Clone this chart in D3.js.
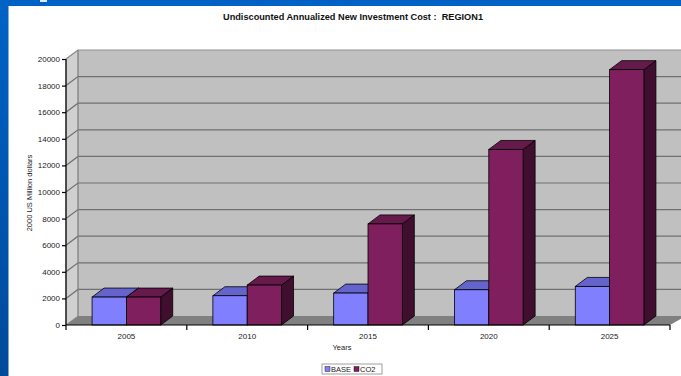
<!DOCTYPE html>
<html>
<head>
<meta charset="utf-8">
<script src="https://cdn.jsdelivr.net/npm/d3@7"></script>
<style>
  html, body { margin: 0; padding: 0; background: #fff; }
  svg { display: block; font-family: "Liberation Sans", Arial, sans-serif; }
</style>
</head>
<body>
<svg class="js-chart" width="681" height="376"></svg>
<script>
// data
var years = ["2005", "2010", "2015", "2020", "2025"];
var seriesNames = ["BASE", "CO2"];
var baseValues = [2100, 2200, 2400, 2650, 2900];
var co2Values = [2100, 3000, 7600, 13200, 19200];
var yTicks = [0, 2000, 4000, 6000, 8000, 10000, 12000, 14000, 16000, 18000, 20000];

var chart = {
    margin: { top: 59, right: 11, bottom: 51, left: 66 },
    depth: { dx: 12, dy: 9 },
    colors: {
        BASE: { front: "#8080ff", top: "#6464cc", side: "#4c4c99" },
        CO2:  { front: "#801f5e", top: "#66194b", side: "#400f2f" }
    },

    init: function () {
        this.el = d3.select(".js-chart");
        this.width = 681 - this.margin.left - this.margin.right;
        this.height = 376 - this.margin.top - this.margin.bottom;

        this.x0 = d3.scaleBand().domain(years).range([0, this.width]);
        this.x1 = d3.scaleBand().domain(seriesNames)
            .range([0, this.x0.bandwidth()])
            .paddingInner(0).paddingOuter(0.76);
        this.y = d3.scaleLinear().domain([0, 20000]).range([this.height, 0]);

        this.drawSlide();
        this.drawWalls();
        this.drawBars();
        this.drawAxes();
        this.drawTexts();
    },

    drawSlide: function () {
        var grad = this.el.append("defs").append("linearGradient")
            .attr("id", "slideGrad").attr("x1", 0).attr("y1", 0).attr("x2", 0).attr("y2", 1);
        grad.append("stop").attr("offset", "0%").attr("stop-color", "#0063c6");
        grad.append("stop").attr("offset", "100%").attr("stop-color", "#004a9a");
        this.el.append("rect").attr("x", 0).attr("y", 0).attr("width", 681).attr("height", 6)
            .attr("fill", "#0061c4");
        this.el.append("rect").attr("x", 0).attr("y", 0).attr("width", 8.5).attr("height", 376)
            .attr("fill", "url(#slideGrad)");
        this.el.append("rect").attr("x", 40).attr("y", 0).attr("width", 7).attr("height", 2)
            .attr("fill", "#dde8f5");
    },

    drawWalls: function () {
        var g, dx = this.depth.dx, dy = this.depth.dy, w = this.width, y = this.y;

        g = this.el.append("g")
            .attr("transform", "translate(" + this.margin.left + "," + this.margin.top + ")");
        this.plot = g;

        // back wall
        g.append("rect")
            .attr("x", dx).attr("y", y(20000) - dy)
            .attr("width", w + 10).attr("height", y(0) - y(20000))
            .attr("fill", "#c0c0c0");
        // side wall
        g.append("path")
            .attr("d", "M0," + y(20000) + "L" + dx + "," + (y(20000) - dy) +
                "L" + dx + "," + (y(0) - dy) + "L0," + y(0) + "Z")
            .attr("fill", "#d0d0d0").attr("stroke", "#808080").attr("stroke-width", 0.8);
        // floor
        g.append("path")
            .attr("d", "M0," + y(0) + "L" + dx + "," + (y(0) - dy) +
                "L" + (w + dx + 4) + "," + (y(0) - dy) + "L" + w + "," + y(0) + "Z")
            .attr("fill", "#808080");

        // gridlines: diagonal on side wall, horizontal on back wall
        g.selectAll(".grid").data(yTicks.slice(1)).enter().append("path")
            .attr("class", "grid")
            .attr("d", function (d) {
                return "M0," + y(d) + "L" + dx + "," + (y(d) - dy) + "L" + (w + 30) + "," + (y(d) - dy);
            })
            .attr("fill", "none")
            .attr("stroke", function (d) { return d === 20000 ? "#909090" : "#707070"; })
            .attr("stroke-width", 1.2);

        g.append("line")
            .attr("x1", dx).attr("x2", dx)
            .attr("y1", y(20000) - dy).attr("y2", y(0) - dy)
            .attr("stroke", "#808080").attr("stroke-width", 0.8);
    },

    drawBars: function () {
        var self = this, dx = this.depth.dx, dy = this.depth.dy, y = this.y;
        var rows = years.map(function (yr, i) {
            return { year: yr, values: [
                { name: "BASE", value: baseValues[i] },
                { name: "CO2", value: co2Values[i] }
            ] };
        });

        var groups = this.plot.selectAll(".cat").data(rows).enter().append("g")
            .attr("class", "cat")
            .attr("transform", function (d) { return "translate(" + self.x0(d.year) + ",0)"; });

        var bars = groups.selectAll(".bar").data(function (d) { return d.values; })
            .enter().append("g").attr("class", "bar");

        var bw = this.x1.bandwidth();

        bars.append("path")
            .attr("d", function (d) {
                var x = self.x1(d.name), t = y(d.value), b = y(0);
                return "M" + (x + bw) + "," + t + "L" + (x + bw + dx) + "," + (t - dy) +
                    "L" + (x + bw + dx) + "," + (b - dy) + "L" + (x + bw) + "," + b + "Z";
            })
            .attr("fill", function (d) { return self.colors[d.name].side; })
            .attr("stroke", "#000").attr("stroke-width", 0.8).attr("stroke-linejoin", "round");

        bars.append("path")
            .attr("d", function (d) {
                var x = self.x1(d.name), t = y(d.value);
                return "M" + x + "," + t + "L" + (x + dx) + "," + (t - dy) +
                    "L" + (x + bw + dx) + "," + (t - dy) + "L" + (x + bw) + "," + t + "Z";
            })
            .attr("fill", function (d) { return self.colors[d.name].top; })
            .attr("stroke", "#000").attr("stroke-width", 0.8).attr("stroke-linejoin", "round");

        bars.append("rect")
            .attr("x", function (d) { return self.x1(d.name); })
            .attr("y", function (d) { return y(d.value); })
            .attr("width", bw)
            .attr("height", function (d) { return y(0) - y(d.value); })
            .attr("fill", function (d) { return self.colors[d.name].front; })
            .attr("stroke", "#000").attr("stroke-width", 0.8);
    },

    drawAxes: function () {
        var y = this.y, w = this.width, h = this.height;
        var yAxis = d3.axisLeft(y).tickValues(yTicks).tickSize(4).tickPadding(2)
            .tickFormat(d3.format("d"));
        var ya = this.plot.append("g").attr("class", "axis").call(yAxis);
        ya.select(".domain").attr("stroke", "#000").attr("stroke-width", 1.2)
            .attr("d", "M0," + y(20000) + "V" + y(0));
        ya.selectAll("line").attr("stroke", "#000").attr("stroke-width", 1.2);
        ya.selectAll("text").attr("font-size", 8).attr("fill", "#222")
            .attr("font-family", "'Liberation Sans', Arial, sans-serif");

        // x axis with ticks at category boundaries
        var xa = this.plot.append("g").attr("transform", "translate(0," + h + ")");
        var bounds = years.map(this.x0).concat([w]);
        xa.append("line").attr("x1", 0).attr("x2", w).attr("y1", 0).attr("y2", 0)
            .attr("stroke", "#000").attr("stroke-width", 1.2);
        xa.selectAll(".tk").data(bounds).enter().append("line")
            .attr("x1", function (d) { return d; }).attr("x2", function (d) { return d; })
            .attr("y1", 0).attr("y2", 5)
            .attr("stroke", "#000").attr("stroke-width", 1.2);
        var x0 = this.x0;
        xa.selectAll(".lbl").data(years).enter().append("text")
            .attr("x", function (d) { return x0(d) + x0.bandwidth() / 2; })
            .attr("y", 14)
            .attr("text-anchor", "middle")
            .attr("font-size", 8).attr("fill", "#222")
            .text(String);
    },

    drawTexts: function () {
        this.el.append("text")
            .attr("x", 353).attr("y", 20)
            .attr("text-anchor", "middle")
            .style("white-space", "pre")
            .attr("font-size", 9.2).attr("font-weight", "bold").attr("fill", "#111")
            .text("Undiscounted Annualized New Investment Cost :  REGION1");

        this.el.append("text")
            .attr("transform", "translate(32,193) rotate(-90)")
            .attr("text-anchor", "middle")
            .attr("font-size", 7.5).attr("fill", "#222")
            .text("2000 US Million dollars");

        this.el.append("text")
            .attr("x", 342).attr("y", 350)
            .attr("text-anchor", "middle")
            .attr("font-size", 7.5).attr("fill", "#222")
            .text("Years");

        // legend
        var lg = this.el.append("g").attr("transform", "translate(322,364)");
        lg.append("rect").attr("x", 0).attr("y", 0).attr("width", 60).attr("height", 10)
            .attr("fill", "#fff").attr("stroke", "#888").attr("stroke-width", 0.8);
        var self = this;
        var items = lg.selectAll(".li").data(seriesNames).enter().append("g")
            .attr("transform", function (d, i) { return "translate(" + (3 + i * 29) + ",2.5)"; });
        items.append("rect").attr("width", 5).attr("height", 5)
            .attr("fill", function (d) { return self.colors[d].front; })
            .attr("stroke", "#000").attr("stroke-width", 0.4);
        items.append("text").attr("x", 6).attr("y", 5.5)
            .attr("font-size", 7.5).attr("fill", "#222")
            .text(String);
    }
};

chart.init();
</script>
</body>
</html>
